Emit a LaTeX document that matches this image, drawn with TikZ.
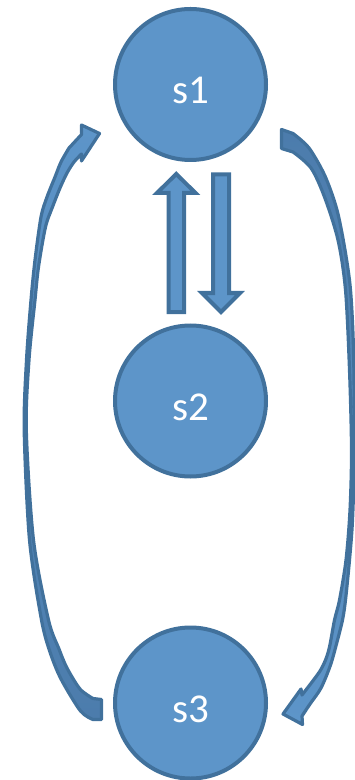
\documentclass[tikz,border=0pt]{standalone}
\usepackage{fontspec}
\setmainfont{Carlito}
\definecolor{nodefill}{RGB}{93,149,201}
\definecolor{nodeline}{RGB}{65,113,156}
\definecolor{backfill}{RGB}{76,124,172}
\begin{document}
\begin{tikzpicture}[x=0.5pt,y=-0.5pt,
  state/.style={circle, draw=nodeline, fill=nodefill, line width=2pt,
    minimum size=75.5pt, inner sep=0pt, text=white,
    font=\fontsize{20.5}{20.5}\selectfont, text height=19.5pt, text depth=0pt},
  blockarrow/.style={draw=nodeline, fill=nodefill, line width=2pt, line join=miter},
  ribbonup/.style={draw=nodeline, line width=1.6pt, line join=round,
    top color=nodefill, bottom color=backfill},
  ribbondown/.style={draw=nodeline, line width=1.6pt, line join=round,
    top color=backfill, bottom color=nodefill}]
\useasboundingbox (0,0) rectangle (354,780);

% states
\node[state] (s1) at (190.5,84.5) {s1};
\node[state] (s2) at (190.5,401) {s2};
\node[state] (s3) at (190.5,703) {s3};

% straight block arrows between s1 and s2
\draw[blockarrow] (168.5,312) -- (168.5,193) -- (157,193) -- (176.25,174)
  -- (195.5,193) -- (184,193) -- (184,312) -- cycle;
\draw[blockarrow] (213,174.5) -- (213,293) -- (202,293) -- (221,312)
  -- (240,293) -- (229,293) -- (229,174.5) -- cycle;

% curved arrow from s3 up to s1 (left side)
\draw[ribbonup] (101.5,699.5)
  -- plot[smooth] coordinates {(93,698.5) (80,689) (67,668) (59,649) (48.5,620)
     (33.5,540) (26.3,430) (29,360) (35,300) (38.5,267) (45.5,227) (52.5,207)
     (60,188) (67,173) (74,162) (81.5,154)}
  -- (81.5,161) -- (99.5,133.5) -- (81.5,125) -- (81.5,134.5)
  -- plot[smooth] coordinates {(69,148) (61,162) (55,177) (47,197) (41,217)
     (35,260) (31,300) (26.5,360) (24.2,430) (29.5,540) (41.5,620) (50,652)
     (61,679) (80.5,711) (93,719.5)}
  -- (101.5,719.5) -- cycle;

% curved arrow from s1 down to s3 (right side)
\draw[ribbondown] (281.5,129.5)
  -- plot[smooth] coordinates {(293,133.5) (309,148) (325,176) (337,210)
     (345,250) (350.5,290) (353.5,350) (354.5,450) (352.5,520) (349.5,560)
     (345.5,600) (342.5,620) (337,642) (330.5,665) (321,688) (310,704) (302,716)}
  -- (302.5,724.5) -- (283,714) -- (301,689) -- (302,695)
  -- plot[smooth] coordinates {(310.5,684) (320,671) (325.5,660) (329.5,647)
     (334.5,620) (339.5,600) (346,560) (350,510) (351.5,450) (349.5,370)
     (345.5,290) (338,240) (324.5,197) (311,168) (293,152)}
  -- (281.5,148.5) -- cycle;
\end{tikzpicture}
\end{document}
